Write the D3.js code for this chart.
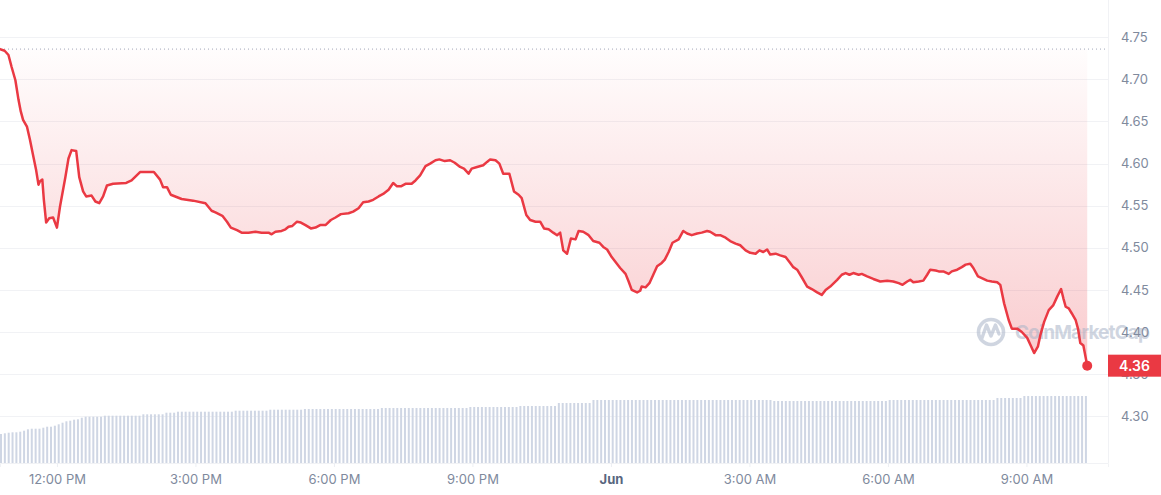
<!DOCTYPE html>
<html>
<head>
<meta charset="utf-8">
<script src="https://cdn.jsdelivr.net/npm/d3@7"></script>
<style>
  html, body { margin: 0; padding: 0; background: #fff; }
  #chart { width: 1161px; height: 495px; }
  text { font-family: Inter, "Noto Sans", sans-serif; }
</style>
</head>
<body>
<div id="chart"></div>
<script>
// 24h window, starting 10:46 AM
const startTime = new Date(2024, 4, 31, 10, 46)
const openPrice = 4.736
const lastPrice = 4.36

// minutes after startTime
const priceMinutes = [
  0, 6, 11, 15, 20, 24, 27, 30, 35, 39, 43, 47, 50, 52, 55, 57, 60, 64, 69, 74,
  78, 85, 89, 93, 99, 103, 108, 112, 119, 124, 129, 134, 139, 147, 164, 171, 182, 200, 208, 212,
  217, 222, 236, 251, 267, 275, 280, 289, 295, 300, 308, 314, 323, 332, 340, 349, 353, 358, 366, 371,
  375, 380, 386, 391, 397, 404, 410, 416, 423, 430, 436, 443, 453, 459, 466, 472, 479, 485, 492, 498,
  505, 511, 516, 521, 527, 535, 540, 546, 553, 559, 566, 571, 578, 585, 591, 598, 603, 609, 613, 620,
  628, 633, 637, 644, 649, 654, 662, 668, 674, 678, 684, 689, 696, 702, 707, 713, 719, 724, 728, 732,
  737, 742, 748, 752, 758, 765, 771, 779, 784, 789, 795, 800, 806, 813, 817, 821, 828, 832, 834, 839,
  844, 849, 854, 860, 864, 869, 874, 882, 888, 893, 899, 906, 912, 919, 923, 930, 936, 943, 949, 956,
  962, 969, 975, 982, 987, 992, 997, 1001, 1008, 1014, 1021, 1027, 1031, 1036, 1042, 1049, 1055, 1062, 1068, 1073,
  1079, 1088, 1094, 1099, 1104, 1109, 1116, 1120, 1127, 1135, 1144, 1153, 1161, 1168, 1173, 1179, 1183, 1187, 1194, 1200,
  1205, 1209, 1216, 1220, 1226, 1233, 1237, 1244, 1250, 1255, 1261, 1265, 1271, 1276, 1283, 1289, 1296, 1300, 1305, 1311,
  1315, 1322, 1328, 1335, 1340, 1344, 1349, 1352, 1357, 1363, 1369, 1374, 1379, 1382, 1385, 1389, 1393, 1398, 1401, 1404,
  1408, 1413
]
const prices = [
  4.736, 4.734, 4.729, 4.715, 4.699, 4.676, 4.662, 4.652, 4.644, 4.628, 4.610, 4.592, 4.575, 4.579, 4.581, 4.557, 4.530, 4.535, 4.536, 4.524,
  4.549, 4.584, 4.606, 4.616, 4.615, 4.584, 4.567, 4.561, 4.562, 4.555, 4.553, 4.561, 4.574, 4.576, 4.577, 4.580, 4.590, 4.590, 4.581, 4.572,
  4.572, 4.563, 4.558, 4.556, 4.553, 4.544, 4.542, 4.538, 4.531, 4.524, 4.521, 4.518, 4.518, 4.519, 4.518, 4.518, 4.516, 4.519, 4.520, 4.522,
  4.525, 4.526, 4.531, 4.530, 4.527, 4.523, 4.524, 4.527, 4.527, 4.533, 4.536, 4.540, 4.541, 4.543, 4.547, 4.554, 4.555, 4.557, 4.561, 4.564,
  4.569, 4.577, 4.573, 4.573, 4.576, 4.576, 4.580, 4.586, 4.597, 4.600, 4.604, 4.605, 4.603, 4.604, 4.601, 4.596, 4.594, 4.588, 4.594, 4.596,
  4.598, 4.602, 4.605, 4.604, 4.600, 4.588, 4.588, 4.567, 4.563, 4.559, 4.539, 4.533, 4.531, 4.531, 4.523, 4.522, 4.518, 4.515, 4.518, 4.497,
  4.493, 4.511, 4.510, 4.520, 4.519, 4.515, 4.508, 4.506, 4.501, 4.498, 4.489, 4.483, 4.476, 4.469, 4.460, 4.450, 4.447, 4.449, 4.454, 4.453,
  4.458, 4.468, 4.478, 4.482, 4.486, 4.495, 4.506, 4.510, 4.520, 4.517, 4.515, 4.517, 4.518, 4.520, 4.519, 4.515, 4.515, 4.512, 4.508, 4.505,
  4.503, 4.497, 4.494, 4.493, 4.497, 4.495, 4.498, 4.492, 4.493, 4.491, 4.489, 4.482, 4.477, 4.474, 4.465, 4.454, 4.451, 4.447, 4.444, 4.450,
  4.454, 4.462, 4.468, 4.470, 4.468, 4.470, 4.468, 4.469, 4.466, 4.463, 4.460, 4.461, 4.460, 4.458, 4.456, 4.460, 4.462, 4.459, 4.460, 4.461,
  4.468, 4.474, 4.473, 4.472, 4.472, 4.469, 4.472, 4.474, 4.477, 4.480, 4.481, 4.476, 4.466, 4.464, 4.461, 4.460, 4.459, 4.456, 4.434, 4.414,
  4.404, 4.404, 4.400, 4.393, 4.383, 4.375, 4.383, 4.396, 4.412, 4.426, 4.432, 4.442, 4.451, 4.440, 4.430, 4.428, 4.422, 4.414, 4.404, 4.387,
  4.384, 4.360
]

// 5 minute volume bars (millions)
const volumeStepMinutes = 5
const volumes = [
  2.90, 2.97, 3.03, 3.07, 3.07, 3.13, 3.23, 3.37, 3.43, 3.43,
  3.43, 3.53, 3.63, 3.63, 3.73, 3.87, 4.03, 4.17, 4.23, 4.33,
  4.37, 4.53, 4.63, 4.63, 4.63, 4.63, 4.63, 4.73, 4.73, 4.73,
  4.73, 4.73, 4.73, 4.73, 4.73, 4.73, 4.73, 4.87, 4.87, 4.87,
  4.87, 4.87, 4.87, 5.03, 5.03, 5.03, 5.13, 5.13, 5.13, 5.13,
  5.13, 5.13, 5.13, 5.13, 5.13, 5.13, 5.13, 5.13, 5.13, 5.13,
  5.13, 5.23, 5.23, 5.23, 5.23, 5.23, 5.23, 5.23, 5.23, 5.23,
  5.33, 5.33, 5.33, 5.33, 5.33, 5.33, 5.33, 5.33, 5.33, 5.40,
  5.40, 5.40, 5.40, 5.40, 5.40, 5.40, 5.40, 5.40, 5.40, 5.40,
  5.40, 5.40, 5.40, 5.40, 5.40, 5.40, 5.40, 5.40, 5.40, 5.50,
  5.50, 5.50, 5.50, 5.50, 5.50, 5.50, 5.50, 5.50, 5.50, 5.50,
  5.50, 5.50, 5.50, 5.50, 5.50, 5.50, 5.50, 5.50, 5.50, 5.50,
  5.50, 5.50, 5.60, 5.60, 5.60, 5.60, 5.60, 5.60, 5.60, 5.60,
  5.60, 5.60, 5.60, 5.60, 5.60, 5.70, 5.70, 5.70, 5.70, 5.70,
  5.70, 5.70, 5.70, 5.70, 5.70, 6.00, 6.00, 6.00, 6.00, 6.00,
  6.00, 6.00, 6.00, 6.00, 6.30, 6.30, 6.30, 6.30, 6.30, 6.30,
  6.30, 6.30, 6.30, 6.30, 6.30, 6.30, 6.30, 6.30, 6.30, 6.30,
  6.30, 6.30, 6.30, 6.30, 6.30, 6.30, 6.30, 6.30, 6.30, 6.30,
  6.30, 6.30, 6.30, 6.30, 6.30, 6.30, 6.30, 6.30, 6.30, 6.30,
  6.30, 6.30, 6.30, 6.30, 6.30, 6.30, 6.30, 6.30, 6.30, 6.30,
  6.30, 6.20, 6.20, 6.20, 6.20, 6.20, 6.20, 6.20, 6.20, 6.20,
  6.20, 6.20, 6.20, 6.20, 6.20, 6.20, 6.20, 6.20, 6.20, 6.20,
  6.20, 6.20, 6.20, 6.20, 6.20, 6.20, 6.20, 6.20, 6.20, 6.20,
  6.20, 6.30, 6.30, 6.30, 6.30, 6.30, 6.30, 6.30, 6.30, 6.30,
  6.30, 6.30, 6.30, 6.30, 6.30, 6.30, 6.30, 6.30, 6.30, 6.30,
  6.30, 6.30, 6.30, 6.30, 6.30, 6.30, 6.30, 6.30, 6.30, 6.50,
  6.50, 6.50, 6.50, 6.50, 6.50, 6.50, 6.70, 6.70, 6.70, 6.70,
  6.70, 6.70, 6.70, 6.70, 6.70, 6.70, 6.70, 6.70, 6.70, 6.70,
  6.70, 6.70, 6.70
]

const priceTicks = [4.30, 4.35, 4.40, 4.45, 4.50, 4.55, 4.60, 4.65, 4.70, 4.75]

const red = "#ea3943"
const grey = "#808a9d"

const plotW = 1108
const plotH = 463

const svg = d3.select("#chart").append("svg")
    .attr("width", 1161)
    .attr("height", 495)

const x = d3.scaleTime()
    .domain([startTime, d3.timeHour.offset(startTime, 24)])
    .range([0, plotW])

const y = d3.scaleLinear()
    .domain([4.30, 4.75])
    .range([416.2, 37.3])

const vy = d3.scaleLinear()
    .domain([0, 10])
    .range([plotH, plotH - 100])

const points = priceMinutes.map((m, i) => ({t: d3.timeMinute.offset(startTime, m), v: prices[i]}))
const bars = volumes.map((v, i) => ({t: d3.timeMinute.offset(startTime, i * volumeStepMinutes), v: v}))

// gradient for the area under the opening price
const defs = svg.append("defs")
const grad = defs.append("linearGradient")
    .attr("id", "redFill")
    .attr("gradientUnits", "userSpaceOnUse")
    .attr("x1", 0).attr("x2", 0)
    .attr("y1", y(openPrice)).attr("y2", y(d3.min(prices)))
grad.append("stop").attr("offset", "0%").attr("stop-color", red).attr("stop-opacity", 0.01)
grad.append("stop").attr("offset", "100%").attr("stop-color", red).attr("stop-opacity", 0.26)

// grid
svg.append("g")
    .selectAll("line")
    .data(priceTicks)
    .join("line")
    .attr("x1", 0)
    .attr("x2", plotW)
    .attr("y1", d => Math.round(y(d)) + 0.5)
    .attr("y2", d => Math.round(y(d)) + 0.5)
    .attr("stroke", "#f1f2f5")

svg.append("line")
    .attr("x1", plotW + 0.5).attr("x2", plotW + 0.5)
    .attr("y1", 0).attr("y2", plotH)
    .attr("stroke", "#f1f2f5")

// volume
svg.append("g")
    .selectAll("rect")
    .data(bars)
    .join("rect")
    .attr("x", d => x(d.t))
    .attr("y", d => vy(d.v))
    .attr("width", 2)
    .attr("height", d => plotH - vy(d.v))
    .attr("fill", "#cfd6e4")

// area between open price and price line
const area = d3.area()
    .x(d => x(d.t))
    .y0(y(openPrice))
    .y1(d => y(d.v))

svg.append("path")
    .datum(points)
    .attr("d", area)
    .attr("fill", "url(#redFill)")

// watermark
const wm = svg.append("g")
    .attr("opacity", 0.55)
wm.append("circle")
    .attr("cx", 991).attr("cy", 332).attr("r", 12.5)
    .attr("fill", "none")
    .attr("stroke", "#a9b4c8")
    .attr("stroke-width", 3.6)
wm.append("path")
    .attr("d", "M982,338 L986.5,325 L991,336 L995.5,325 L999,334")
    .attr("fill", "none")
    .attr("stroke", "#a9b4c8")
    .attr("stroke-width", 3.4)
    .attr("stroke-linejoin", "round")
    .attr("stroke-linecap", "round")
wm.append("text")
    .attr("x", 1015)
    .attr("y", 339)
    .attr("font-size", 19)
    .attr("font-weight", 700)
    .attr("fill", "#a9b4c8")
    .attr("textLength", 135)
    .text("CoinMarketCap")

// opening price reference
svg.append("line")
    .attr("x1", 0).attr("x2", plotW - 2)
    .attr("y1", y(openPrice)).attr("y2", y(openPrice))
    .attr("stroke", "#a1a7bb")
    .attr("stroke-width", 1)
    .attr("stroke-dasharray", "1 3")

const line = d3.line()
    .x(d => x(d.t))
    .y(d => y(d.v))

svg.append("path")
    .datum(points)
    .attr("d", line)
    .attr("fill", "none")
    .attr("stroke", red)
    .attr("stroke-width", 2.5)
    .attr("stroke-linejoin", "round")
    .attr("stroke-linecap", "round")

const last = points[points.length - 1]
svg.append("circle")
    .attr("cx", x(last.t))
    .attr("cy", y(last.v))
    .attr("r", 5)
    .attr("fill", red)

// right price axis
const yAxisG = svg.append("g")
    .attr("transform", `translate(${plotW}, 0)`)
    .call(d3.axisRight(y)
        .tickValues(priceTicks)
        .tickSize(0)
        .tickPadding(13)
        .tickFormat(d3.format(".2f")))
yAxisG.select(".domain").remove()
yAxisG.selectAll("text")
    .attr("fill", grey)
    .attr("font-size", 13)
    .attr("font-family", "Inter, sans-serif")

// bottom time axis
const fmtHour = d3.timeFormat("%-I:%M %p")
const fmtMonth = d3.timeFormat("%b")
const xAxisG = svg.append("g")
    .attr("transform", `translate(0, ${plotH})`)
    .call(d3.axisBottom(x)
        .ticks(d3.timeHour.every(3))
        .tickSize(4)
        .tickPadding(8)
        .tickFormat(d => d.getHours() === 0 ? fmtMonth(d) : fmtHour(d)))
xAxisG.select(".domain").attr("stroke", "#f1f2f5")
xAxisG.selectAll(".tick line").attr("stroke", "#eceff3")
xAxisG.selectAll("text")
    .attr("fill", d => d.getHours() === 0 ? "#58667e" : grey)
    .attr("font-weight", d => d.getHours() === 0 ? 700 : 400)
    .attr("font-size", 13)
    .attr("font-family", "Inter, sans-serif")

// last price badge
const badge = svg.append("g")
    .attr("transform", `translate(${plotW}, ${y(lastPrice)})`)
badge.append("rect")
    .attr("x", 0).attr("y", -11)
    .attr("width", 53).attr("height", 22)
    .attr("fill", red)
badge.append("text")
    .attr("x", 26.5)
    .attr("y", 0)
    .attr("dy", "0.35em")
    .attr("text-anchor", "middle")
    .attr("fill", "#fff")
    .attr("font-size", 14)
    .attr("font-weight", 600)
    .text(d3.format(".2f")(lastPrice))
</script>
</body>
</html>
